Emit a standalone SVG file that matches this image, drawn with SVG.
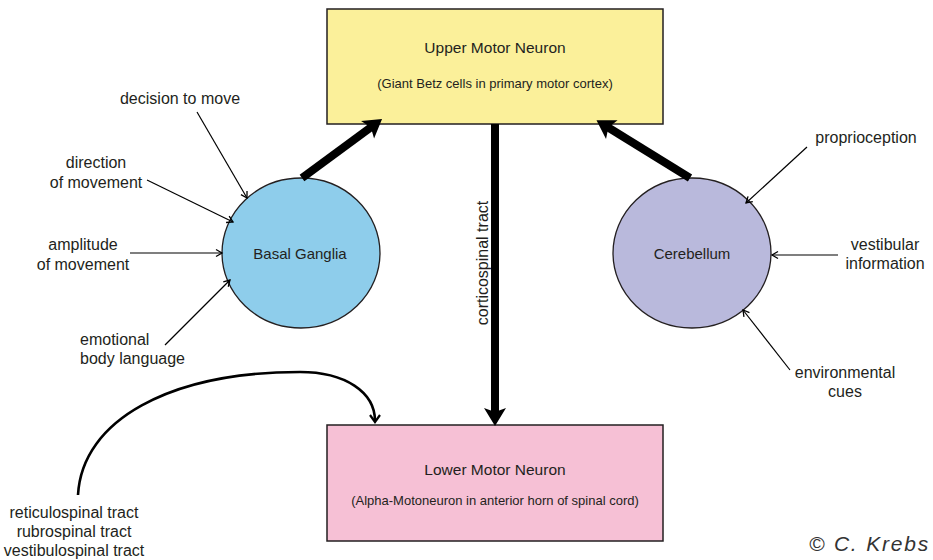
<svg xmlns="http://www.w3.org/2000/svg" width="933" height="560" viewBox="0 0 933 560">
<style>
  text { font-family: "Liberation Sans", Arial, sans-serif; fill: #231f20; }
  .title { font-size: 15.5px; text-anchor: middle; }
  .sub { font-size: 13px; text-anchor: middle; }
  .lbl { font-size: 16px; text-anchor: middle; }
  .node { font-size: 15px; text-anchor: middle; }
  .box { stroke: #231f20; stroke-width: 1.5; }
  .thick { stroke: #000; stroke-width: 8; fill: none; marker-end: url(#bigHead); }
  .thin { stroke: #000; stroke-width: 1.2; fill: none; marker-end: url(#smallHead); }
  .curve { stroke: #000; stroke-width: 2.6; fill: none; marker-end: url(#curveHead); }
</style>
<defs>
  <marker id="bigHead" markerUnits="userSpaceOnUse" orient="auto" refX="0" refY="0" markerWidth="40" markerHeight="40" viewBox="-20 -20 40 40" overflow="visible">
    <path d="M 10 0 L -8 -11 L -4 0 L -8 11 Z" fill="#000"/>
  </marker>
  <marker id="smallHead" markerUnits="userSpaceOnUse" orient="auto" refX="0" refY="0" markerWidth="20" markerHeight="20" viewBox="-10 -10 20 20" overflow="visible">
    <path d="M -6 -3.5 L 0 0 L -6 3.5" fill="none" stroke="#000" stroke-width="1.3"/>
  </marker>
  <marker id="curveHead" markerUnits="userSpaceOnUse" orient="auto" refX="0" refY="0" markerWidth="20" markerHeight="20" viewBox="-10 -10 20 20" overflow="visible">
    <path d="M -6 -5 L 1 0 L -6 5" fill="none" stroke="#000" stroke-width="2.2"/>
  </marker>
</defs>

<g id="upper-motor-neuron">
  <rect class="box" x="327" y="9" width="336" height="115" fill="#fbf09a"/>
  <text class="title" x="495" y="53">Upper Motor Neuron</text>
  <text class="sub" x="495" y="88">(Giant Betz cells in primary motor cortex)</text>
</g>

<g id="lower-motor-neuron">
  <rect class="box" x="327" y="425" width="336" height="116" fill="#f6c0d5"/>
  <text class="title" x="495" y="475">Lower Motor Neuron</text>
  <text class="sub" x="495" y="505">(Alpha-Motoneuron in anterior horn of spinal cord)</text>
</g>

<g id="basal-ganglia">
  <ellipse cx="301" cy="253" rx="79" ry="75" fill="#8ecdeb" stroke="#231f20" stroke-width="1.3"/>
  <text class="node" x="300" y="259">Basal Ganglia</text>
</g>

<g id="cerebellum">
  <ellipse cx="692" cy="253" rx="79" ry="75" fill="#b9b9dc" stroke="#231f20" stroke-width="1.3"/>
  <text class="node" x="692" y="259">Cerebellum</text>
</g>

<g id="labels">
  <text class="lbl" x="180" y="104">decision to move</text>
  <text class="lbl" x="96" y="168">direction</text>
  <text class="lbl" x="96" y="188">of movement</text>
  <text class="lbl" x="83" y="250">amplitude</text>
  <text class="lbl" x="83" y="270">of movement</text>
  <text class="lbl" x="80" y="345" style="text-anchor:start">emotional</text>
  <text class="lbl" x="80" y="364" style="text-anchor:start">body language</text>
  <text class="lbl" x="866" y="143">proprioception</text>
  <text class="lbl" x="885" y="250">vestibular</text>
  <text class="lbl" x="885" y="269">information</text>
  <text class="lbl" x="845" y="378">environmental</text>
  <text class="lbl" x="845" y="397">cues</text>
  <text class="lbl" x="74" y="518">reticulospinal tract</text>
  <text class="lbl" x="74" y="537">rubrospinal tract</text>
  <text class="lbl" x="74" y="556">vestibulospinal tract</text>
  <text class="lbl" x="0" y="0" transform="translate(488 263) rotate(-90)">corticospinal tract</text>
  <text x="930" y="551" style="font-size:21px;font-style:italic;text-anchor:end;fill:#333;letter-spacing:1.8px">©  C. Krebs</text>
</g>

<g id="connectors">
  <line class="thick" x1="302" y1="178" x2="374" y2="125"/>
  <line class="thick" x1="690" y1="178" x2="605" y2="125.5"/>
  <line class="thick" x1="495" y1="124" x2="495" y2="416"/>
  <line class="thin" x1="197" y1="112" x2="247" y2="198"/>
  <line class="thin" x1="147" y1="180" x2="233" y2="222"/>
  <line class="thin" x1="130" y1="253" x2="222" y2="253"/>
  <line class="thin" x1="165" y1="345" x2="230" y2="280"/>
  <line class="thin" x1="807" y1="147" x2="746" y2="203"/>
  <line class="thin" x1="838" y1="255" x2="772" y2="255"/>
  <line class="thin" x1="790" y1="370" x2="743" y2="310"/>
  <path class="curve" d="M 78 495 C 82 420 170 372 300 372 C 345 372 375 392 375 421"/>
</g>
</svg>
